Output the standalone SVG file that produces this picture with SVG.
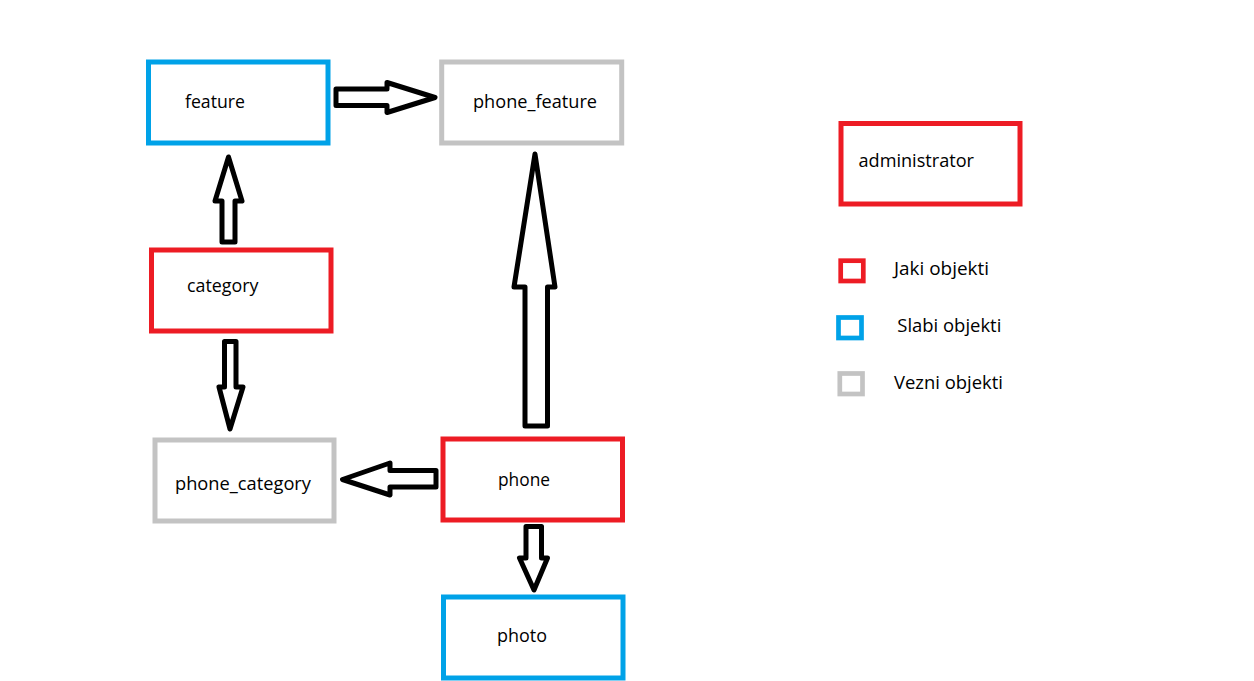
<svg xmlns="http://www.w3.org/2000/svg" width="1254" height="681" viewBox="0 0 1254 681">
<style>
.box{fill:none;stroke-width:5}
.red{stroke:#ed1c24}
.blue{stroke:#00a2e8}
.gray{stroke:#c3c3c3}
.lg{fill:none;stroke-width:4.7}
text{font-family:"Open Sans","Liberation Sans",sans-serif;font-size:18px;fill:#000}
.arrow{fill:#fff;stroke:#000;stroke-width:5;stroke-linejoin:round}
</style>
<rect width="1254" height="681" fill="#fff"/>
<g id="feature"><rect class="box blue" x="148.5" y="62" width="179.5" height="81"/><text x="185" y="108" textLength="60" lengthAdjust="spacingAndGlyphs">feature</text></g>
<g id="phone_feature"><rect class="box gray" x="441.7" y="62" width="180" height="81"/><text x="473" y="108" textLength="124" lengthAdjust="spacingAndGlyphs">phone_feature</text></g>
<g id="category"><rect class="box red" x="151.5" y="250" width="179.5" height="81"/><text x="187" y="292" textLength="71.5" lengthAdjust="spacingAndGlyphs">category</text></g>
<g id="phone_category"><rect class="box gray" x="155" y="440" width="179" height="81"/><text x="175" y="490" textLength="136" lengthAdjust="spacingAndGlyphs">phone_category</text></g>
<g id="phone"><rect class="box red" x="443" y="439" width="179.5" height="81"/><text x="498" y="486" textLength="52" lengthAdjust="spacingAndGlyphs">phone</text></g>
<g id="photo"><rect class="box blue" x="443.5" y="597" width="179.5" height="81"/><text x="497" y="642" textLength="50" lengthAdjust="spacingAndGlyphs">photo</text></g>
<g id="administrator"><rect class="box red" x="841" y="123.5" width="179" height="80.5"/><text x="858.5" y="167" textLength="115.5" lengthAdjust="spacingAndGlyphs">administrator</text></g>
<g id="legend">
<rect class="lg red" x="840.7" y="260.7" width="22.6" height="20.3"/><text x="894" y="275" textLength="95" lengthAdjust="spacingAndGlyphs">Jaki objekti</text>
<rect class="lg blue" x="838.5" y="317.5" width="23" height="20.5"/><text x="897.3" y="332" textLength="104" lengthAdjust="spacingAndGlyphs">Slabi objekti</text>
<rect class="lg gray" x="839.8" y="373.5" width="22.7" height="20.5"/><text x="894" y="389" textLength="109" lengthAdjust="spacingAndGlyphs">Vezni objekti</text>
</g>
<g id="connectors">
<polygon class="arrow" points="336,89 387,89 387,82.5 435,97.5 387,112.5 387,105.5 336,105.5"/>
<polygon class="arrow" points="222,242 222,201 215,201 228.5,157 242,201 235,201 235,242"/>
<polygon class="arrow" points="224.5,341.5 236,341.5 236,387 243,387 230,429 219,387 224.5,387"/>
<polygon class="arrow" points="525,426 525,287 514,287 535,154 555,287 547.5,287 547.5,426"/>
<polygon class="arrow" points="436,470.5 390,470.5 390,463 342.5,479.5 390,495 390,487 436,487"/>
<polygon class="arrow" points="526,526.5 541.5,526.5 541.5,558 547.5,558 534,590 519.5,558 526,558"/>
</g>
</svg>
